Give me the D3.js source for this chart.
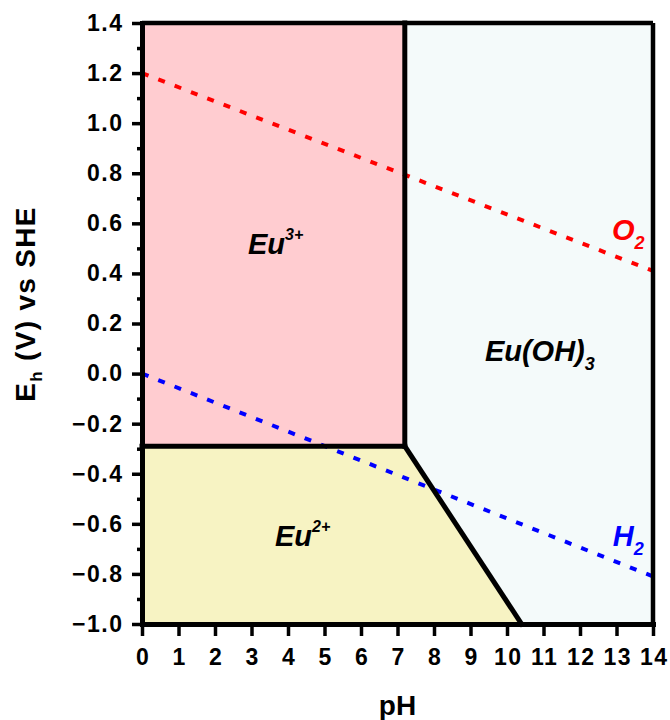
<!DOCTYPE html>
<html>
<head>
<meta charset="utf-8">
<script src="https://cdn.jsdelivr.net/npm/d3@7"></script>
<style>
  body { margin: 0; background: #fff; }
  text { font-family: "Liberation Sans", Arial, sans-serif; font-weight: bold; }
</style>
</head>
<body>
<svg class="chart"></svg>
<script>
// pH / Eh data
var xTicks = d3.range(0, 15);
var yTicks = [-1.0, -0.8, -0.6, -0.4, -0.2, 0.0, 0.2, 0.4, 0.6, 0.8, 1.0, 1.2, 1.4];
var yMinor = [-0.9, -0.7, -0.5, -0.3, -0.1, 0.1, 0.3, 0.5, 0.7, 0.9, 1.1, 1.3];

var eu3Region = [[0, -0.29], [7.2, -0.29], [7.2, 1.4], [0, 1.4]];
var eu2Region = [[0, -1.0], [10.4, -1.0], [7.2, -0.29], [0, -0.29]];
var euOHRegion = [[7.2, 1.4], [14, 1.4], [14, -1.0], [10.4, -1.0], [7.2, -0.29]];

var boundaries = [
    [[7.2, 1.4], [7.2, -0.29]],
    [[0, -0.29], [7.2, -0.29]],
    [[7.2, -0.29], [10.4, -1.0]]
];
var o2Line = [[0, 1.2], [14, 0.41]];
var h2Line = [[0, 0.0], [14, -0.81]];

var margin = {top: 23, right: 17, bottom: 96, left: 142},
    width = 670 - margin.left - margin.right,
    height = 720 - margin.top - margin.bottom;

var svg = d3.select(".chart")
    .attr("width", 670)
    .attr("height", 720)
    .append("g")
    .attr("transform", "translate(" + margin.left + "," + margin.top + ")");

var x = d3.scaleLinear().domain([0, 14]).range([0, width]);
var y = d3.scaleLinear().domain([-1.0, 1.4]).range([height, 0]);

var line = d3.line()
    .x(function(d) { return x(d[0]); })
    .y(function(d) { return y(d[1]); });
var poly = function(pts) { return line(pts) + "Z"; };

svg.append("path").attr("d", poly(eu3Region)).style("fill", "#ffccd0");
svg.append("path").attr("d", poly(eu2Region)).style("fill", "#f7f3c3");
svg.append("path").attr("d", poly(euOHRegion)).style("fill", "#f4fafa");

// water stability lines
svg.append("path").attr("d", line(o2Line))
    .style("fill", "none").style("stroke", "#ff0000")
    .style("stroke-width", 4).style("stroke-dasharray", "7,10.5");
svg.append("path").attr("d", line(h2Line))
    .style("fill", "none").style("stroke", "#0000ff")
    .style("stroke-width", 4).style("stroke-dasharray", "7,10.5");

boundaries.forEach(function(b) {
    svg.append("path").attr("d", line(b))
        .style("fill", "none").style("stroke", "#000")
        .style("stroke-width", 5).style("stroke-linecap", "square");
});

// frame
svg.append("line").attr("x1", 0).attr("x2", width).attr("y1", 0).attr("y2", 0)
    .style("stroke", "#000").style("stroke-width", 4.5);
svg.append("line").attr("x1", width).attr("x2", width).attr("y1", 0).attr("y2", height)
    .style("stroke", "#000").style("stroke-width", 4.5);

// axes
var xAxis = svg.append("g").attr("transform", "translate(0," + height + ")")
    .call(d3.axisBottom(x).tickValues(xTicks).tickFormat(d3.format("d")).tickSize(12).tickSizeOuter(0));
var yAxis = svg.append("g")
    .call(d3.axisLeft(y).tickValues(yTicks).tickFormat(d3.format(".1f")).tickSize(10).tickSizeOuter(0));
svg.append("g")
    .call(d3.axisLeft(y).tickValues(yMinor).tickFormat("").tickSize(5).tickSizeOuter(0))
    .select(".domain").remove();

svg.selectAll(".domain").style("stroke-width", 5).attr("stroke-linecap", "square");
svg.selectAll(".tick line").style("stroke-width", 3.5);
xAxis.selectAll("text").style("font-size", "23px").style("letter-spacing", "1.5px")
    .attr("y", 41).attr("dy", 0).attr("dx", 0.75);
yAxis.selectAll("text").style("font-size", "23px").style("letter-spacing", "1.5px").attr("x", -18.5);

// region labels
function label(px, py, main, sub, sup, color) {
    var t = svg.append("text")
        .attr("x", x(px)).attr("y", y(py))
        .attr("text-anchor", "middle")
        .style("font-style", "italic")
        .style("font-size", "29px")
        .style("fill", color);
    t.append("tspan").text(main);
    if (sup) t.append("tspan").attr("dy", -14).style("font-size", "16px").text(sup);
    if (sub) t.append("tspan").attr("dy", 9).style("font-size", "18px").text(sub);
}
label(3.66, 0.478, "Eu", null, "3+", "#000");
label(10.9, 0.05, "Eu(OH)", "3", null, "#000");
label(4.40, -0.69, "Eu", null, "2+", "#000");
label(13.32, 0.534, "O", "2", null, "#ff0000");
label(13.32, -0.69, "H", "2", null, "#0000ff");

// axis titles
svg.append("text")
    .attr("x", width / 2).attr("y", 715 - margin.top)
    .attr("text-anchor", "middle").style("font-size", "28px").text("pH");
var yt = svg.append("text")
    .attr("transform", "translate(" + (35 - margin.left) + "," + (304 - margin.top) + ") rotate(-90)")
    .attr("text-anchor", "middle").style("font-size", "28px").style("letter-spacing", "1.3px");
yt.append("tspan").text("E");
yt.append("tspan").attr("dy", 7).style("font-size", "17px").text("h");
yt.append("tspan").attr("dy", -7).text(" (V) vs SHE");
</script>
</body>
</html>
